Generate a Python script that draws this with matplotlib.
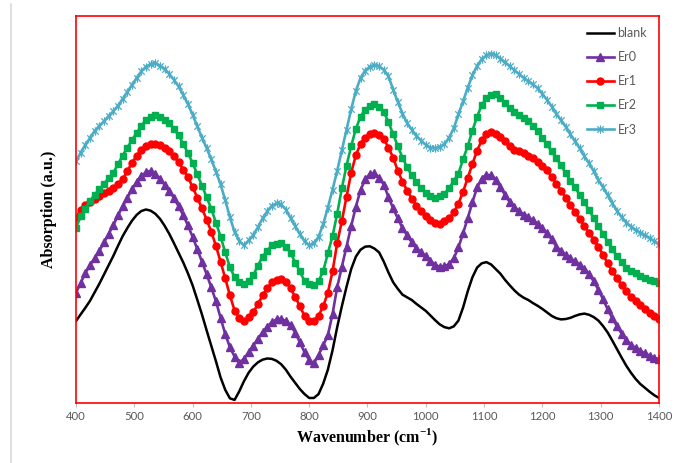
import numpy as np
import matplotlib
matplotlib.use("Agg")
import matplotlib.pyplot as plt
from matplotlib.path import Path
from matplotlib.lines import Line2D

# ---------------- data (absorption in arbitrary units) ----------------
wavenumber = np.arange(400, 1401, 8)

blank = [21.2, 22.9, 24.6, 26.4, 28.6, 30.8, 33.2, 35.6,
         38.0, 40.6, 43.1, 45.2, 47.1, 48.6, 49.6, 50.0,
         49.7, 48.9, 47.6, 45.8, 43.7, 41.3, 38.8, 36.3,
         33.5, 30.4, 26.7, 22.9, 18.8, 14.8, 10.8, 6.6,
         3.4, 1.2, 0.8, 3.0, 5.6, 7.8, 9.4, 10.5,
         11.2, 11.5, 11.4, 10.9, 10.0, 8.6, 6.8, 5.2,
         3.6, 2.3, 1.3, 1.3, 2.3, 5.0, 8.6, 13.6,
         19.6, 25.0, 30.0, 34.6, 37.8, 39.6, 40.4, 40.5,
         39.9, 38.9, 36.5, 33.7, 31.2, 29.5, 28.0, 27.3,
         26.6, 25.6, 24.7, 23.8, 22.6, 21.4, 20.3, 19.6,
         19.3, 19.8, 21.3, 24.7, 28.9, 32.5, 35.0, 36.1,
         36.4, 35.8, 34.6, 33.4, 31.8, 30.4, 29.1, 28.0,
         27.2, 26.6, 25.8, 25.1, 24.3, 23.4, 22.5, 21.9,
         21.6, 21.7, 22.0, 22.5, 22.9, 23.1, 22.8, 22.2,
         21.3, 19.9, 18.2, 16.1, 13.9, 11.7, 9.6, 7.8,
         6.2, 4.9, 3.9, 2.9, 2.0, 1.3]

er0 = [28.5, 31.0, 33.6, 35.6, 37.4, 39.3, 41.5, 43.7,
       45.9, 48.5, 50.8, 53.0, 55.2, 57.2, 58.7, 59.6,
       60.0, 59.3, 57.9, 56.4, 54.7, 53.0, 50.8, 48.5,
       45.9, 42.9, 39.8, 36.5, 33.3, 29.9, 26.3, 22.0,
       17.8, 14.4, 12.0, 10.4, 11.4, 13.1, 14.8, 16.6,
       18.3, 19.7, 20.9, 21.6, 21.8, 21.1, 20.1, 18.2,
       15.7, 13.1, 11.1, 10.3, 12.4, 14.9, 17.5, 23.0,
       29.9, 35.2, 40.4, 45.7, 50.7, 55.0, 57.8, 59.2,
       59.4, 58.2, 56.4, 53.2, 50.3, 47.7, 45.2, 43.3,
       41.5, 40.0, 38.9, 37.9, 36.8, 35.7, 35.2, 35.3,
       35.9, 37.4, 40.2, 43.9, 47.8, 51.9, 55.7, 58.0,
       59.0, 58.8, 57.7, 55.8, 53.7, 51.9, 50.7, 49.5,
       48.7, 48.0, 47.2, 46.3, 45.2, 43.8, 42.3, 40.4,
       39.3, 38.2, 37.4, 36.6, 35.7, 34.7, 33.4, 31.4,
       29.3, 26.8, 24.2, 21.9, 19.8, 17.9, 16.3, 15.0,
       14.2, 13.5, 12.8, 12.2, 11.7, 11.3]

er1 = [47.9, 50.0, 51.2, 52.0, 52.7, 53.4, 54.2, 54.9,
       55.6, 56.6, 57.8, 59.9, 62.1, 63.8, 65.5, 66.4,
       66.9, 67.0, 66.6, 66.0, 65.0, 63.7, 62.2, 60.3,
       58.4, 55.8, 53.1, 50.3, 47.4, 44.3, 40.6, 36.5,
       32.2, 27.8, 23.9, 22.0, 21.2, 22.1, 23.5, 25.5,
       27.8, 29.6, 31.2, 31.8, 32.0, 31.3, 29.6, 27.4,
       25.0, 22.5, 21.2, 21.1, 22.5, 25.0, 28.5, 34.0,
       41.3, 47.0, 53.3, 59.5, 64.0, 67.0, 68.6, 69.5,
       69.7, 69.2, 68.2, 66.0, 63.4, 60.0, 57.2, 54.9,
       52.8, 51.0, 49.5, 48.2, 47.2, 46.4, 46.3, 46.9,
       47.7, 49.3, 51.5, 54.6, 58.2, 61.8, 65.2, 67.9,
       69.6, 70.0, 69.6, 68.8, 67.7, 66.4, 65.5, 65.0,
       64.5, 63.9, 63.4, 62.4, 61.3, 60.1, 58.4, 56.7,
       54.9, 53.1, 51.1, 49.4, 47.5, 45.8, 44.0, 42.2,
       40.4, 38.3, 36.1, 34.0, 32.2, 30.4, 28.9, 27.4,
       26.4, 25.3, 24.2, 23.3, 22.5, 21.6]

er2 = [45.3, 48.2, 50.2, 52.2, 53.8, 55.2, 56.6, 58.1,
       59.5, 61.7, 63.9, 66.0, 67.9, 69.8, 71.6, 73.2,
       74.0, 74.3, 73.9, 73.2, 72.3, 70.8, 69.2, 66.9,
       64.6, 62.0, 59.1, 56.2, 53.2, 50.2, 46.6, 43.0,
       38.9, 35.1, 32.5, 31.2, 30.7, 31.5, 33.0, 35.5,
       37.8, 39.4, 40.7, 41.2, 41.3, 40.4, 38.8, 36.3,
       34.0, 31.5, 30.7, 30.5, 31.5, 34.0, 38.7, 43.1,
       48.9, 55.5, 61.3, 66.4, 70.8, 74.0, 75.8, 76.8,
       77.2, 76.6, 75.2, 72.6, 69.4, 66.4, 63.4, 60.9,
       58.8, 57.0, 55.5, 54.2, 53.4, 53.1, 53.5, 54.1,
       55.5, 57.4, 59.3, 63.0, 66.4, 70.4, 74.0, 77.0,
       78.8, 79.7, 79.8, 78.8, 77.6, 76.3, 75.1, 74.3,
       73.7, 72.8, 71.5, 70.2, 68.6, 66.8, 65.0, 63.2,
       61.4, 59.4, 57.4, 55.7, 53.8, 51.9, 49.8, 47.8,
       45.8, 43.7, 41.7, 39.7, 37.9, 36.4, 35.0, 34.2,
       33.5, 32.9, 32.4, 31.9, 31.5, 31.1]

er3 = [62.5, 64.7, 66.7, 68.5, 70.3, 71.6, 72.8, 74.1,
       75.4, 76.8, 78.6, 80.4, 82.2, 84.0, 85.7, 86.9,
       87.6, 87.8, 87.2, 86.3, 85.0, 83.5, 81.8, 79.6,
       77.2, 74.5, 71.5, 68.6, 65.9, 63.0, 59.8, 56.5,
       52.4, 48.0, 44.2, 41.9, 40.7, 42.0, 43.4, 45.4,
       47.7, 49.5, 51.0, 51.6, 51.3, 50.0, 47.8, 45.7,
       43.6, 41.8, 40.7, 41.3, 42.9, 46.2, 50.5, 55.1,
       60.0, 65.3, 70.6, 75.9, 80.6, 84.0, 85.9, 86.9,
       87.4, 87.0, 86.1, 84.4, 81.0, 77.8, 74.8, 72.3,
       70.6, 69.0, 67.8, 66.7, 66.0, 65.8, 66.2, 66.9,
       68.6, 71.0, 74.6, 78.0, 81.5, 84.7, 87.1, 88.9,
       89.8, 90.3, 89.9, 89.0, 88.0, 87.0, 86.0, 85.0,
       84.0, 83.1, 82.3, 81.3, 79.9, 78.3, 76.6, 74.8,
       73.0, 71.4, 69.4, 67.6, 65.8, 63.8, 61.9, 59.9,
       57.7, 55.7, 53.7, 51.6, 49.6, 48.0, 46.6, 45.6,
       44.7, 44.0, 43.3, 42.6, 41.8, 41.0]

labels = ["blank", "Er0", "Er1", "Er2", "Er3"]
xticks = [400, 500, 600, 700, 800, 900, 1000, 1100, 1200, 1300, 1400]

# ---------------- styling ----------------
plt.rcParams['mathtext.fontset'] = 'custom'
plt.rcParams['mathtext.rm'] = 'Liberation Serif:bold'
plt.rcParams['mathtext.bf'] = 'Liberation Serif:bold'

W, H = 682, 463
fig = plt.figure(figsize=(W / 100, H / 100), dpi=100)
ax = fig.add_axes([76 / W, 1 - 403 / H, (659 - 76) / W, (403 - 16) / H])

# Excel-style asterisk marker (x plus vertical bar)
star = Path([(-1, -1), (1, 1), (-1, 1), (1, -1), (0, -1.3), (0, 1.3)],
            [Path.MOVETO, Path.LINETO, Path.MOVETO, Path.LINETO,
             Path.MOVETO, Path.LINETO])

def xs(arr):
    return np.linspace(400, 1400, len(arr))

LW = 1.9
ax.plot(xs(blank), blank, color='black', lw=1.8, label=labels[0])
ax.plot(xs(er0), er0, color='#7030A0', lw=LW, marker='^', ms=5.4,
        mec='#7030A0', mfc='#7030A0', label=labels[1])
ax.plot(xs(er1), er1, color='#FF0000', lw=LW, marker='o', ms=5.0,
        mec='#FF0000', mfc='#FF0000', label=labels[2])
ax.plot(xs(er2), er2, color='#00B050', lw=LW, marker='s', ms=4.8,
        mec='#00B050', mfc='#00B050', label=labels[3])
ax.plot(xs(er3), er3, color='#4BACC6', lw=LW, marker=star, ms=6.0,
        mec='#4BACC6', mfc='none', mew=0.9, label=labels[4])

ax.set_xlim(400, 1400)
ax.set_ylim(0, 100)
ax.set_xticks(xticks)
ax.set_xticklabels([str(t) for t in xticks])
ax.set_yticks([])

for s in ax.spines.values():
    s.set_color('#FF0000')
    s.set_linewidth(1.2)

ax.tick_params(axis='x', direction='out', length=3, width=0.8,
               color='#BFBFBF', labelcolor='#595959', labelsize=8.2, pad=2.5)
for lab in ax.get_xticklabels():
    lab.set_family('Lato')

ax.set_xlabel(r'Wavenumber (cm$^{\mathbf{-1}}$)', family='Liberation Serif',
              fontweight='bold', fontsize=11.5, labelpad=4)
ax.set_ylabel('Absorption (a.u.)', family='Liberation Serif',
              fontweight='bold', fontsize=11.5, labelpad=14)

leg = ax.legend(loc='upper left', bbox_to_anchor=(587 / W, 1 - 27 / H),
                bbox_transform=fig.transFigure, frameon=False, numpoints=1,
                handlelength=2.15, handletextpad=0.3, labelspacing=0.97,
                borderpad=0, borderaxespad=0,
                prop={'family': 'Lato', 'size': 9})
for t in leg.get_texts():
    t.set_color('#595959')

# faint outer frame line on the left
fig.add_artist(Line2D([11 / W, 11 / W], [0, 1 - 4 / H], color='#D9D9D9',
                      lw=1.2, transform=fig.transFigure))

fig.savefig('out.png', dpi=100)
